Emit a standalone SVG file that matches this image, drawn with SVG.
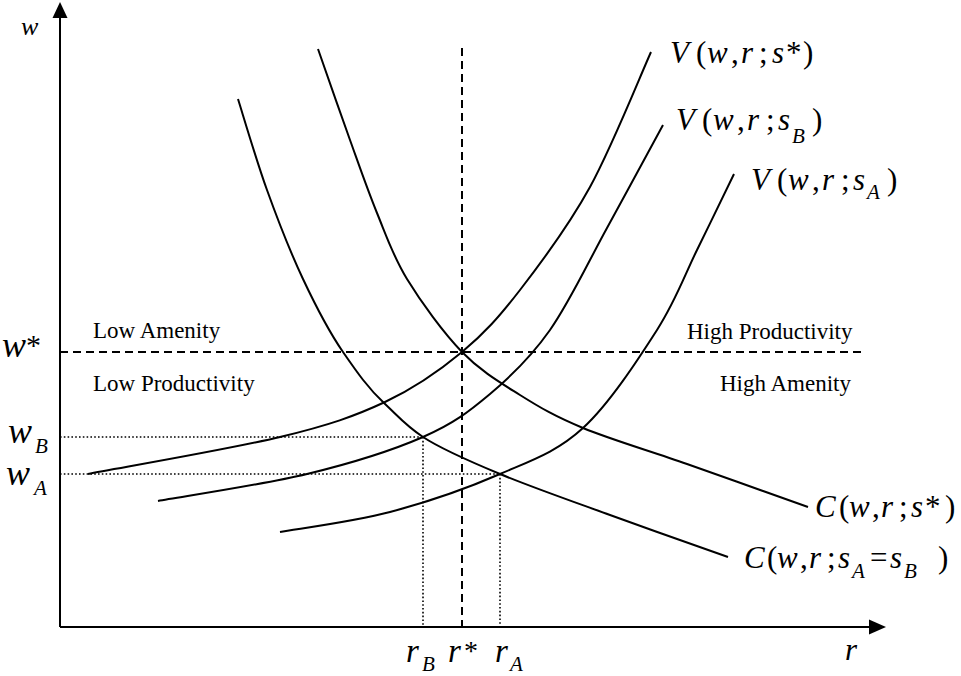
<svg xmlns="http://www.w3.org/2000/svg" width="961" height="676" viewBox="0 0 961 676">
<style>
.ax{stroke:#000;stroke-width:2;fill:none}
.cv{stroke:#000;stroke-width:2;fill:none}
.dash{stroke:#000;stroke-width:2;fill:none;stroke-dasharray:8 5}
.dot{stroke:#000;stroke-width:1.6;fill:none;stroke-dasharray:1.6 2.2}
text{font-family:"Liberation Serif","Times New Roman",serif;fill:#000}
.m{font-style:italic}
.u{font-style:normal}
.lbl{font-size:23px}
.eq{font-size:31px}
.sub{font-size:21px;font-style:italic}
</style>
<g id="axes">
<line class="ax" x1="60" y1="627" x2="60" y2="14"/>
<polygon points="60,2 52.5,18 67.5,18" fill="#000"/>
<line class="ax" x1="60" y1="627" x2="872" y2="627"/>
<polygon points="886,627 869,619.5 869,634.5" fill="#000"/>
</g>
<g id="connectors">
<line class="dash" x1="60" y1="352" x2="866" y2="352"/>
<line class="dash" x1="462" y1="48" x2="462" y2="627"/>
<line class="dot" x1="60" y1="437" x2="423" y2="437"/>
<line class="dot" x1="423" y1="437" x2="423" y2="627"/>
<line class="dot" x1="60" y1="474" x2="500" y2="474"/>
<line class="dot" x1="500" y1="474" x2="500" y2="627"/>
</g>
<g id="V_star">
<path class="cv" d="M88,474 C120,467.8 230.5,449 280,437 C329.5,425 354.7,416.2 385,402 C415.3,387.8 439.5,370.7 462,352 C484.5,333.3 498.7,317.5 520,290 C541.3,262.5 568.2,226.7 590,187 C611.8,147.3 640.8,74.5 651,52"/>
</g>
<g id="V_B">
<path class="cv" d="M158,501 C182.8,496.5 262.8,484.7 307,474 C351.2,463.3 392.5,450.3 423,437 C453.5,423.7 468.8,411.8 490,394 C511.2,376.2 530.5,357.7 550,330 C569.5,302.3 588.2,262.2 607,228 C625.8,193.8 653.7,142.2 663,125"/>
</g>
<g id="V_A">
<path class="cv" d="M280,532 C298.3,528.7 353.3,521.7 390,512 C426.7,502.3 467.8,488 500,474 C532.2,460 556.8,452 583,428 C609.2,404 638,359.7 657,330 C676,300.3 684.2,276 697,250 C709.8,224 727.8,186.7 734,174"/>
</g>
<g id="C_star">
<path class="cv" d="M318,49 C323.3,64.2 340.2,112.7 350,140 C359.8,167.3 367.5,189.8 377,213 C386.5,236.2 392.8,255.8 407,279 C421.2,302.2 443.2,332.7 462,352 C480.8,371.3 499.8,382.3 520,395 C540.2,407.7 555.2,416.5 583,428 C610.8,439.5 649.5,450.8 687,464 C724.5,477.2 787.8,499.8 808,507"/>
</g>
<g id="C_AB">
<path class="cv" d="M238,99 C242.8,114.2 256.2,160 267,190 C277.8,220 290.3,252 303,279 C315.7,306 328.5,331 343,352 C357.5,373 368,388 384,403 C400,418 405,425 423,437 C441,449 468.8,461 500,474 C531.2,487 572,501.2 610,515 C648,528.8 708.3,550 728,557"/>
</g>
<g id="region_labels">
<text class="lbl" x="93" y="338">Low Amenity</text>
<text class="lbl" x="93" y="391">Low Productivity</text>
<text class="lbl" x="687" y="339">High Productivity</text>
<text class="lbl" x="720" y="391">High Amenity</text>
</g>
<g id="axis_labels">
<text class="m" x="21" y="35" font-size="26">w</text>
<text x="845" y="660" font-size="31" class="m">r</text>
<text x="2" y="357" font-size="36"><tspan class="m">w</tspan><tspan class="u" font-size="30" dy="-2">*</tspan></text>
<text x="8" y="443" font-size="36" class="m">w</text><text class="sub" x="35" y="453">B</text>
<text x="6" y="485" font-size="36" class="m">w</text><text class="sub" x="34" y="495">A</text>
<text x="406" y="662" font-size="33" class="m">r</text><text class="sub" x="422" y="671">B</text>
<text x="448" y="662" font-size="33" class="m">r</text><text x="464" y="660" font-size="28">*</text>
<text x="495" y="662" font-size="33" class="m">r</text><text class="sub" x="510" y="671">A</text>
</g>
<g id="V_labels" class="eq">
<text y="63"><tspan class="m" x="670">V</tspan><tspan x="696">(</tspan><tspan class="m" x="707">w</tspan><tspan x="731">,</tspan><tspan class="m" x="741">r</tspan><tspan x="759">;</tspan><tspan class="m" x="772">s</tspan><tspan x="786">*</tspan><tspan x="803">)</tspan></text>
<text y="130"><tspan class="m" x="676">V</tspan><tspan x="702">(</tspan><tspan class="m" x="713">w</tspan><tspan x="737">,</tspan><tspan class="m" x="747">r</tspan><tspan x="766">;</tspan><tspan class="m" x="778">s</tspan><tspan x="812">)</tspan></text>
<text class="sub" x="792" y="143">B</text>
<text y="190"><tspan class="m" x="751">V</tspan><tspan x="777">(</tspan><tspan class="m" x="788">w</tspan><tspan x="812">,</tspan><tspan class="m" x="822">r</tspan><tspan x="841">;</tspan><tspan class="m" x="853">s</tspan><tspan x="887">)</tspan></text>
<text class="sub" x="867" y="199">A</text>
</g>
<g id="C_labels" class="eq">
<text y="517"><tspan class="m" x="815">C</tspan><tspan x="839">(</tspan><tspan class="m" x="849">w</tspan><tspan x="872">,</tspan><tspan class="m" x="881">r</tspan><tspan x="899">;</tspan><tspan class="m" x="911">s</tspan><tspan x="925">*</tspan><tspan x="945">)</tspan></text>
<text y="568"><tspan class="m" x="744">C</tspan><tspan x="767">(</tspan><tspan class="m" x="777">w</tspan><tspan x="800">,</tspan><tspan class="m" x="809">r</tspan><tspan x="827">;</tspan><tspan class="m" x="838">s</tspan><tspan x="870">=</tspan><tspan class="m" x="890">s</tspan><tspan x="938">)</tspan></text>
<text class="sub" x="852" y="578">A</text>
<text class="sub" x="904" y="578">B</text>
</g>
</svg>
